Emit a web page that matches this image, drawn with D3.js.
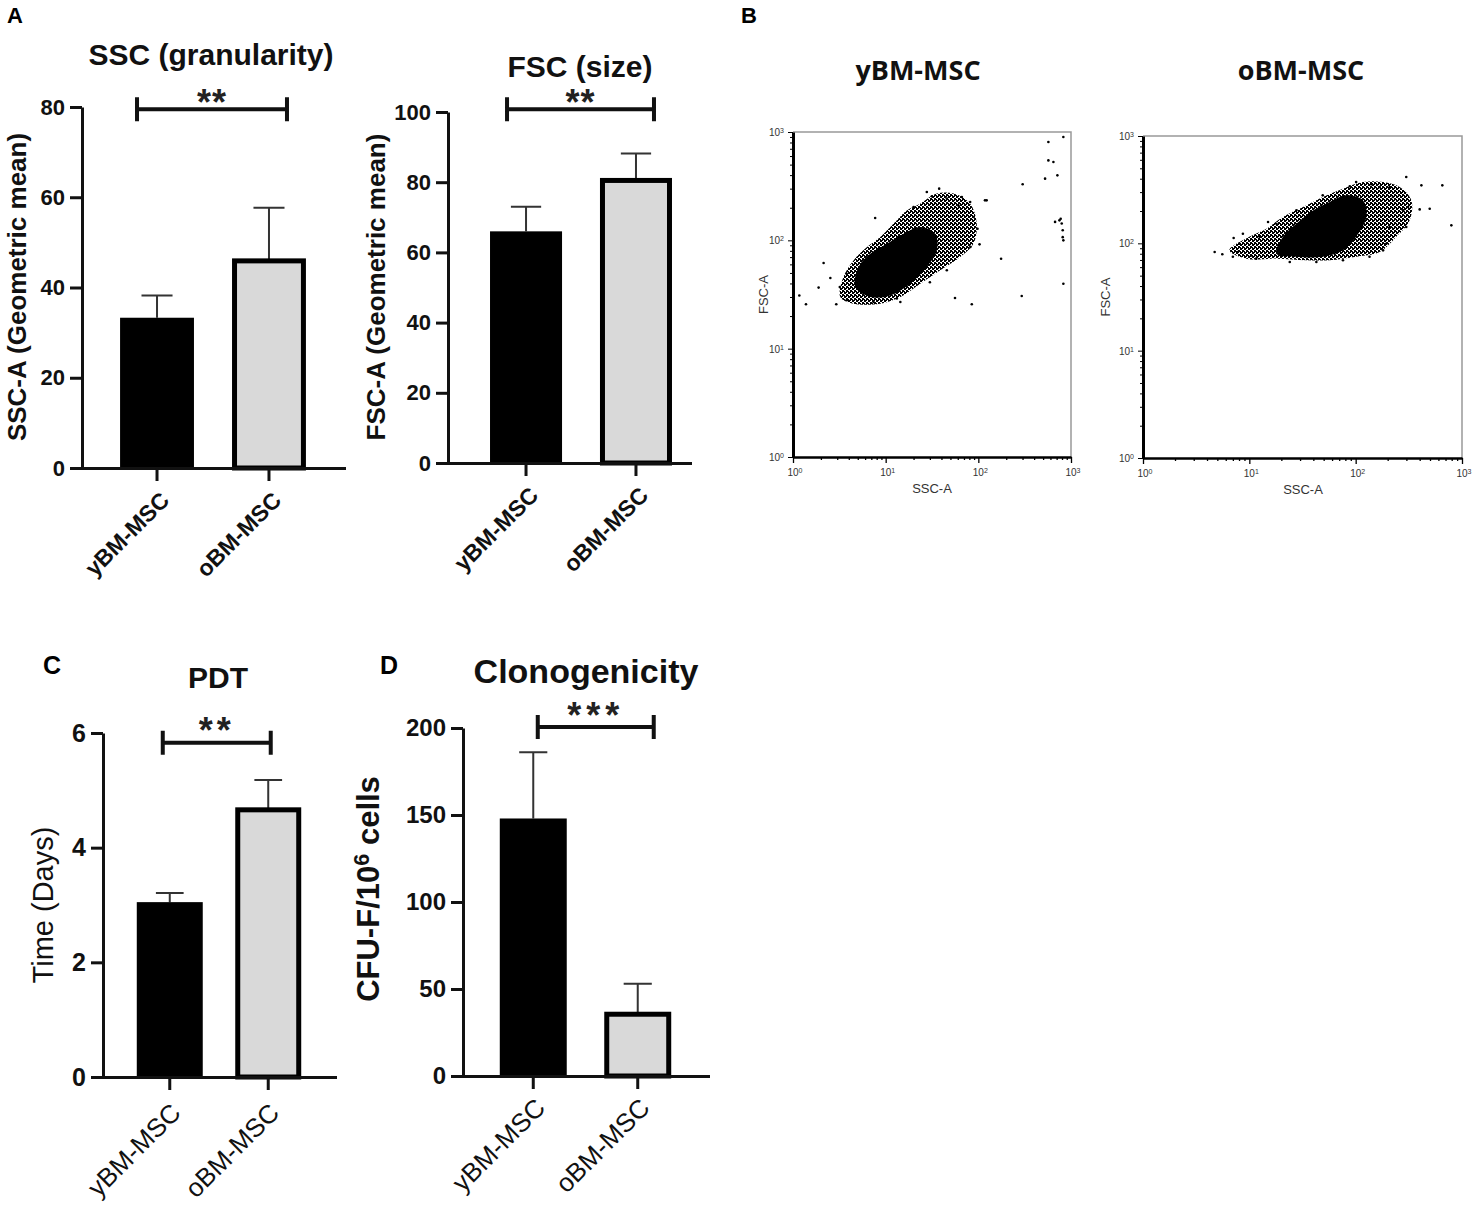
<!DOCTYPE html>
<html>
<head>
<meta charset="utf-8">
<script src="https://cdn.jsdelivr.net/npm/d3@7"></script>
<style>
  body { margin: 0; background: #fff; }
  svg { display: block; font-family: "Liberation Sans", Arial, sans-serif; }
</style>
</head>
<body>
<svg id="fig" width="1476" height="1209"></svg>
<script>
// Groups shared by every bar chart
const groups = ['yBM-MSC', 'oBM-MSC'];

// A: SSC geometric mean (mean, SD)
const sscMean = [33.3, 45.9];
const sscSD = [4.9, 11.8];
const sscTicks = [0, 20, 40, 60, 80];

// A: FSC geometric mean
const fscMean = [66, 80.5];
const fscSD = [7, 7.7];
const fscTicks = [0, 20, 40, 60, 80, 100];

// C: population doubling time (days)
const pdtMean = [3.05, 4.66];
const pdtSD = [0.16, 0.52];
const pdtTicks = [0, 2, 4, 6];

// D: CFU-F per 10^6 cells
const cfuMean = [148, 35.5];
const cfuSD = [38, 17.5];
const cfuTicks = [0, 50, 100, 150, 200];

// B: flow cytometry decades
const flowTicks = [1, 10, 100, 1000];

// B: yBM-MSC cloud, [SSC-A, FSC-A]
const yOuter = [[3.24, 30], [4.5, 26], [8.7, 26], [14.4, 30], [23.6, 39.8], [38.8, 52.9], [63.6, 70.2],
  [88.6, 93], [96, 143], [81.6, 218], [54, 270], [35.7, 270], [23.6, 218], [16.9, 189], [12.2, 143],
  [8.7, 107], [6.3, 86.7], [4.5, 65.3], [3.5, 45.9]];
const yCore = [[4.7, 37], [6.8, 30], [11.2, 31], [18.4, 39.8], [27.8, 56.7], [35.7, 80.9], [34.2, 115],
  [23.6, 133], [15.6, 115], [10.3, 93], [6.8, 75.3], [5.1, 56.7]];
const yStray = [[1.17, 31], [1.38, 25.7], [1.89, 36.6], [2.14, 61.8], [2.53, 44.9], [2.93, 25.7], [7.7, 161],
  [14.4, 27], [56, 29.4], [85, 25.7], [103, 91.8], [118, 234], [176, 67.7], [301, 329], [294, 30.6],
  [525, 371], [570, 809], [570, 547], [646, 528], [827, 899], [827, 39.8], [713, 398], [673, 148],
  [750, 153], [774, 158], [794, 143], [814, 124], [814, 107], [827, 100], [27.8, 279], [37.8, 300],
  [45.7, 243], [66.4, 251], [81.6, 226], [123, 234], [20, 203], [31.5, 255], [61, 210], [89, 164],
  [98, 128], [82, 87], [3.8, 28], [7.4, 27], [13.2, 29], [30, 41], [45.7, 53], [3.2, 37], [3.8, 49]];

// B: oBM-MSC cloud
const oOuter = [[6.5, 86], [9.4, 72], [18, 72], [34.4, 69.5], [57, 69.5], [101, 75], [168, 83], [241, 115],
  [322, 164], [334, 252], [259, 335], [181, 373], [117, 373], [76, 323], [49, 270], [32, 218],
  [20.7, 176], [14.5, 137], [10, 115]];
const oCore = [[18, 80], [27.7, 75], [49, 75], [76, 86], [101, 115], [126, 176], [117, 252], [82, 280],
  [57, 243], [40, 203], [27.7, 152], [20.7, 115]];
const oStray = [[4.72, 83], [5.57, 79], [7.12, 112], [8.7, 123], [12.5, 115], [15, 158], [299, 415],
  [415, 347], [497, 210], [653, 347], [794, 147], [400, 207], [140, 355], [101, 373], [7, 75],
  [7.8, 83], [10.4, 77], [194, 99], [209, 142], [279, 203], [224, 270], [168, 335], [11.6, 72],
  [24, 67], [42.7, 67], [76, 69.5], [135, 75], [181, 86], [299, 142], [311, 218], [209, 335],
  [88, 340], [49, 280], [27.7, 203], [18, 152], [8.1, 99]];

const svg = d3.select('#fig');
const ink = '#111';

// speckle textures for the clouds
const defs = svg.append('defs');
const addPattern = (id, size, dots) => {
  const pat = defs.append('pattern').attr('id', id)
    .attr('width', size).attr('height', size).attr('patternUnits', 'userSpaceOnUse');
  dots.forEach(([px, py, s]) =>
    pat.append('rect').attr('x', px).attr('y', py).attr('width', s).attr('height', s).attr('fill', '#000'));
};
addPattern('speck', 4, [[0, 0, 2], [2, 2, 2], [2, 0, 1], [0, 3, 1]]);
addPattern('dense', 3, [[0, 0, 2], [2, 0, 1], [0, 2, 1], [1, 1, 2], [2, 2, 1]]);

// Bar chart panels
const barPanels = [
  { title: 'SSC (granularity)', titleX: 211, titleY: 65, titleSize: 30,
    ylabel: 'SSC-A (Geometric mean)', labX: 26, labY: 287, labSize: 26, labWeight: 'bold',
    mean: sscMean, sd: sscSD, ticks: sscTicks, tickSize: 22,
    x0: 82, x1: 344, y0: 468, yTop: 107, pi: 0.34, po: 0.34, align: 0.5,
    sig: '**', sigAt: 79.5, br: [-20, 18], starGap: 14, starSpace: 1,
    xlabSize: 23, xlabWeight: 'bold', xlabOff: [8, 28] },
  { title: 'FSC (size)', titleX: 580, titleY: 77, titleSize: 30,
    ylabel: 'FSC-A (Geometric mean)', labX: 385, labY: 287, labSize: 26, labWeight: 'bold',
    mean: fscMean, sd: fscSD, ticks: fscTicks, tickSize: 22,
    x0: 448, x1: 690, y0: 463, yTop: 112, pi: 0.345, po: 0.273, align: 0.7,
    sig: '**', sigAt: 100.8, br: [-19, 18], starGap: 14, starSpace: 1,
    xlabSize: 23, xlabWeight: 'bold', xlabOff: [8, 28] },
  { title: 'PDT', titleX: 218, titleY: 688, titleSize: 30,
    ylabel: 'Time (Days)', labX: 53, labY: 905, labSize: 29, labWeight: 'normal',
    mean: pdtMean, sd: pdtSD, ticks: pdtTicks, tickSize: 25,
    x0: 103, x1: 335, y0: 1077, yTop: 733, pi: 0.33, po: 0.343, align: 0.5,
    sig: '**', sigAt: 5.83, br: [-7, 2.5], starGap: 20, starSpace: 4,
    xlabSize: 26, xlabWeight: 'normal', xlabOff: [6, 31] },
  { title: 'Clonogenicity', titleX: 586, titleY: 683, titleSize: 34,
    ylabel: 'CFU-F/10|6| cells', labX: 379, labY: 889, labSize: 31, labWeight: 'bold',
    mean: cfuMean, sd: cfuSD, ticks: cfuTicks, tickSize: 24,
    x0: 463, x1: 708, y0: 1076, yTop: 728, pi: 0.359, po: 0.352, align: 0.5,
    sig: '***', sigAt: 200.6, br: [4.5, 16], starGap: 18.5, starSpace: 5,
    xlabSize: 26, xlabWeight: 'normal', xlabOff: [7, 27] }
];

const drawBarPanel = (p) => {
  const g = svg.append('g');
  const x = d3.scaleBand().domain(groups).range([p.x0, p.x1])
    .paddingInner(p.pi).paddingOuter(p.po).align(p.align);
  const y = d3.scaleLinear().domain([0, d3.max(p.ticks)]).range([p.y0, p.yTop]);
  const bw = x.bandwidth();
  const sw = 5;
  const data = groups.map((grp, i) => ({ grp, i, mean: p.mean[i], sd: p.sd[i] }));

  // SD whiskers
  g.selectAll('path.whisk').data(data).join('path')
    .attr('class', 'whisk')
    .attr('d', d => {
      const cx = x(d.grp) + bw / 2, cap = bw * 0.21, top = y(d.mean + d.sd);
      return `M${cx},${y(d.mean)}V${top}M${cx - cap},${top}H${cx + cap}`;
    })
    .attr('stroke', '#333').attr('stroke-width', 2).attr('fill', 'none');

  // bars: black filled, grey with heavy outline
  g.selectAll('rect.bar').data(data).join('rect')
    .attr('class', 'bar')
    .attr('x', d => d.i === 0 ? x(d.grp) : x(d.grp) + sw / 2)
    .attr('width', d => d.i === 0 ? bw : bw - sw)
    .attr('y', d => y(d.mean))
    .attr('height', d => p.y0 - y(d.mean))
    .attr('fill', d => d.i === 0 ? '#000' : '#d9d9d9')
    .attr('stroke', d => d.i === 0 ? 'none' : '#000')
    .attr('stroke-width', sw);

  // y axis
  const yAxis = g.append('g').attr('transform', `translate(${p.x0},0)`)
    .call(d3.axisLeft(y).tickValues(p.ticks).tickFormat(d3.format('d'))
      .tickSize(12).tickSizeOuter(0).tickPadding(5));
  yAxis.attr('font-family', null).attr('font-size', null);
  yAxis.select('.domain').attr('stroke-width', 3).attr('stroke', ink);
  yAxis.selectAll('.tick line').attr('stroke-width', 3).attr('stroke', ink);
  yAxis.selectAll('.tick text').attr('font-size', p.tickSize).attr('font-weight', 'bold').attr('fill', ink);

  // x axis
  const xAxis = g.append('g').attr('transform', `translate(0,${p.y0})`)
    .call(d3.axisBottom(x).tickSize(13).tickSizeOuter(0));
  xAxis.attr('font-family', null).attr('font-size', null);
  xAxis.select('.domain').attr('stroke-width', 3).attr('stroke', ink).attr('stroke-linecap', 'square');
  xAxis.selectAll('.tick line').attr('stroke-width', 3).attr('stroke', ink);
  xAxis.selectAll('.tick text')
    .attr('y', null).attr('dy', '0.35em')
    .attr('text-anchor', 'end')
    .attr('transform', `translate(${p.xlabOff[0]},${p.xlabOff[1]}) rotate(-45)`)
    .attr('font-size', p.xlabSize).attr('font-weight', p.xlabWeight).attr('fill', ink);

  // significance bracket
  const bx1 = x(groups[0]) + bw / 2 + p.br[0];
  const bx2 = x(groups[1]) + bw / 2 + p.br[1];
  const by = y(p.sigAt);
  g.append('path')
    .attr('d', `M${bx1},${by - 12}V${by + 12}M${bx1},${by}H${bx2}M${bx2},${by - 12}V${by + 12}`)
    .attr('stroke', ink).attr('stroke-width', 4).attr('fill', 'none');
  g.append('text')
    .attr('x', (bx1 + bx2) / 2).attr('y', by - p.starGap + 20)
    .attr('text-anchor', 'middle').attr('font-size', 36).attr('font-weight', 'bold')
    .attr('letter-spacing', p.starSpace).attr('fill', '#222')
    .text(p.sig);

  // title
  g.append('text').attr('x', p.titleX).attr('y', p.titleY)
    .attr('text-anchor', 'middle').attr('font-size', p.titleSize).attr('font-weight', 'bold')
    .attr('fill', ink).text(p.title);

  // y label (| marks a superscript part)
  const parts = p.ylabel.split('|');
  const yl = g.append('text')
    .attr('transform', `translate(${p.labX},${p.labY}) rotate(-90)`)
    .attr('text-anchor', 'middle').attr('font-size', p.labSize).attr('font-weight', p.labWeight)
    .attr('fill', ink);
  parts.forEach((t, i) => {
    const ts = yl.append('tspan').text(t);
    if (i === 1) ts.attr('dy', '-0.45em').attr('font-size', '0.7em');
    if (i === 2) ts.attr('dy', '0.315em');
  });
};

barPanels.forEach(drawBarPanel);

// Flow cytometry dot plots
const flowPanels = [
  { title: 'yBM-MSC', titleX: 918, x0: 793, x1: 1071, y0: 132, y1: 457,
    outer: yOuter, core: yCore, stray: yStray, coreFill: '#000', sscX: 932, fscX: 763 },
  { title: 'oBM-MSC', titleX: 1301, x0: 1143, x1: 1462, y0: 136, y1: 458,
    outer: oOuter, core: oCore, stray: oStray, coreFill: 'url(#dense)', sscX: 1303, fscX: 1105 }
];

const drawFlow = (f) => {
  const g = svg.append('g');
  const x = d3.scaleLog().domain([1, 1000]).range([f.x0, f.x1]);
  const y = d3.scaleLog().domain([1, 1000]).range([f.y1, f.y0]);
  const isMajor = v => flowTicks.includes(v);

  g.append('text').attr('x', f.titleX).attr('y', 80)
    .attr('text-anchor', 'middle').attr('font-family', '"Open Sans", sans-serif')
    .attr('font-size', 27).attr('font-weight', 'bold').attr('fill', ink).text(f.title);

  // thin top/right frame
  g.append('path').attr('d', `M${f.x0},${f.y0}H${f.x1}V${f.y1}`)
    .attr('stroke', '#999').attr('stroke-width', 1.5).attr('fill', 'none');

  // event cloud
  const line = d3.line().x(d => x(d[0])).y(d => y(d[1])).curve(d3.curveCatmullRomClosed.alpha(0.5));
  g.append('path').attr('d', line(f.outer)).attr('fill', 'url(#speck)');
  g.append('path').attr('d', line(f.core)).attr('fill', f.coreFill);
  g.selectAll('circle').data(f.stray).join('circle')
    .attr('cx', d => x(d[0])).attr('cy', d => y(d[1])).attr('r', 1.3).attr('fill', '#000');

  // axes with log minor ticks
  const yAx = g.append('g').attr('transform', `translate(${f.x0},0)`)
    .call(d3.axisLeft(y).tickValues(y.ticks()).tickFormat(() => '').tickSizeOuter(0));
  yAx.select('.domain').attr('stroke', '#000').attr('stroke-width', 3);
  yAx.selectAll('.tick line').attr('x2', d => isMajor(d) ? -5 : -3).attr('stroke-width', 1);

  const xAx = g.append('g').attr('transform', `translate(0,${f.y1})`)
    .call(d3.axisBottom(x).tickValues(x.ticks()).tickFormat(() => '').tickSizeOuter(0));
  xAx.select('.domain').attr('stroke', '#000').attr('stroke-width', 2.5);
  xAx.selectAll('.tick line').attr('y2', d => isMajor(d) ? 6 : 3).attr('stroke-width', 1.3);

  const powLabel = (sel, v) => {
    sel.append('tspan').text('10');
    sel.append('tspan').attr('dy', '-0.45em').attr('font-size', 7).text(Math.round(Math.log10(v)));
  };
  g.selectAll('text.ylab').data(flowTicks).join('text')
    .attr('class', 'ylab').attr('x', f.x0 - 9).attr('y', d => y(d) + 4)
    .attr('text-anchor', 'end').attr('font-size', 10).attr('fill', '#333')
    .each(function (d) { powLabel(d3.select(this), d); });
  g.selectAll('text.xlab').data(flowTicks).join('text')
    .attr('class', 'xlab').attr('x', d => x(d) + 2).attr('y', f.y1 + 19)
    .attr('text-anchor', 'middle').attr('font-size', 10).attr('fill', '#333')
    .each(function (d) { powLabel(d3.select(this), d); });

  g.append('text').attr('x', f.sscX).attr('y', f.y1 + 36)
    .attr('text-anchor', 'middle').attr('font-size', 13).attr('fill', '#333').text('SSC-A');
  g.append('text').attr('transform', `translate(${f.fscX + 5},${(f.y0 + f.y1) / 2}) rotate(-90)`)
    .attr('text-anchor', 'middle').attr('font-size', 13).attr('fill', '#333').text('FSC-A');
};

flowPanels.forEach(drawFlow);

// panel letters
const letters = [['A', 7, 23, 22], ['B', 741, 23, 22], ['C', 43, 674, 25], ['D', 380, 674, 25]];
svg.selectAll('text.letter').data(letters).join('text')
  .attr('class', 'letter').attr('x', d => d[1]).attr('y', d => d[2])
  .attr('font-size', d => d[3]).attr('font-weight', 'bold').attr('fill', '#000')
  .text(d => d[0]);
</script>
</body>
</html>
